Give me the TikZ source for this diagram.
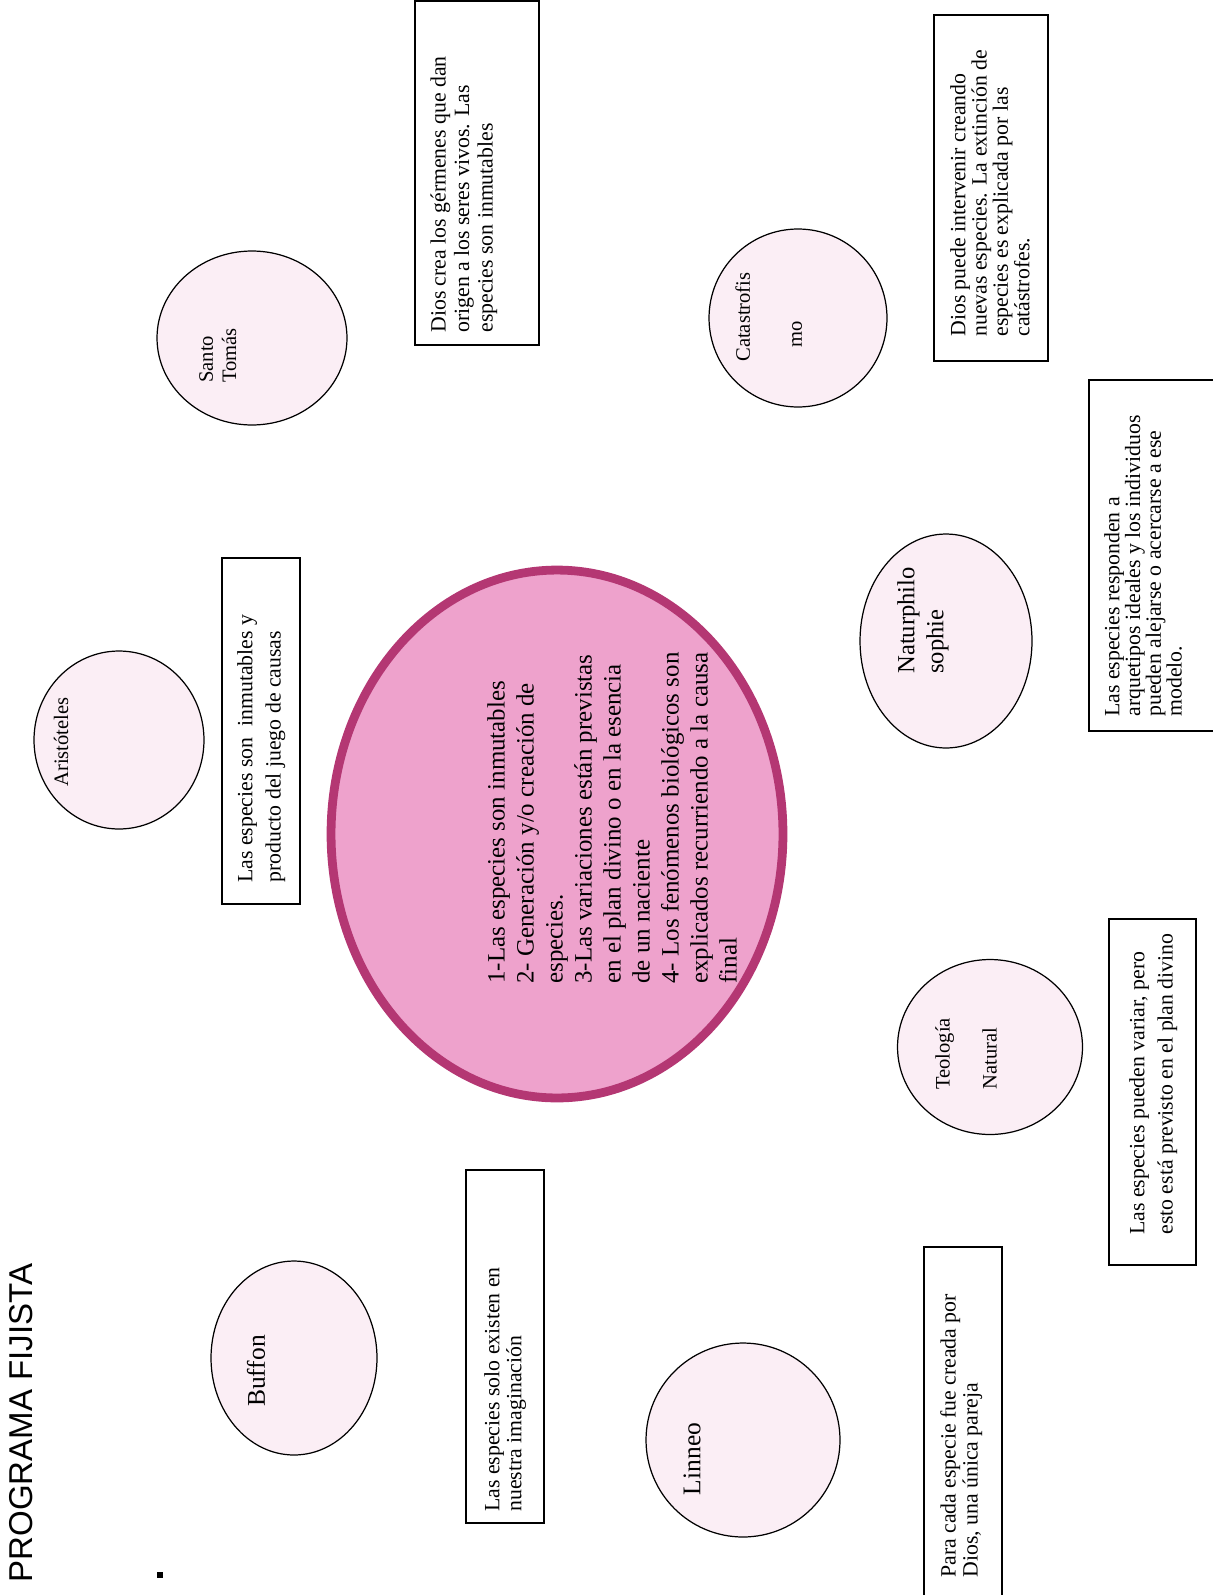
\documentclass[tikz,border=0pt]{standalone}
\usepackage{fontspec}
\setmainfont{Liberation Serif}
\newfontfamily\titulofont{Liberation Sans}
\usetikzlibrary{shapes.geometric}
\definecolor{rosaclaro}{RGB}{251,238,245}
\definecolor{rosa}{RGB}{238,162,204}
\definecolor{bordorosa}{RGB}{180,55,115}

\begin{document}
\begin{tikzpicture}[x=0.02cm, y=-0.02cm, line cap=round,
    burbuja/.style={ellipse, draw=black, line width=0.7pt, fill=rosaclaro, inner sep=0pt},
    caja/.style={rectangle, draw=black, line width=0.8pt, fill=white, inner sep=0pt},
    texto/.style={rotate=90, anchor=north west, align=left, inner sep=0pt},
    rotulo/.style={rotate=90, align=left, inner sep=0pt, font=\fontsize{11.7}{13.2}\selectfont}]
      \useasboundingbox (0,0) rectangle (1213,1595);
      % titulo
      \node[rotate=90, inner sep=0pt, font=\titulofont\fontsize{18.8}{22}\selectfont] (titulo) at (21,1423) {PROGRAMA FIJISTA};
      \node[fill=black, minimum size=3pt, inner sep=0pt] (punto) at (160,1575) {};
      % circulo central
      \node[ellipse, draw=bordorosa, line width=5pt, fill=rosa, minimum width=9.04cm, minimum height=10.56cm] (centro) at (557,834) {};
      \node[texto, font=\fontsize{14.2}{16.5}\selectfont] (centro-t) at (487,984)
        {1-Las especies son inmutables\\2- Generación y/o creación de\\especies.\\3-Las variaciones están previstas\\en el plan divino o en la esencia\\de un naciente\\4- Los fenómenos biológicos son\\explicados recurriendo a la causa\\final};
      % Aristoteles
      \node[burbuja, minimum width=3.4cm, minimum height=3.56cm] (aristoteles) at (119,740) {};
      \node[rotulo, anchor=center] (aristoteles-t) at (61,742) {Aristóteles};
      \node[caja, minimum width=1.56cm, minimum height=6.92cm] (aristoteles-c) at (261,731) {};
      \node[texto, font=\fontsize{12.4}{16}\selectfont] (aristoteles-ct) at (237,883)
        {Las especies son~ inmutables y\\producto del juego de causas};
      % Santo Tomas
      \node[burbuja, minimum width=3.8cm, minimum height=3.48cm] (tomas) at (252,338) {};
      \node[rotulo, anchor=north west] (tomas-t) at (199,383) {Santo\\Tomás};
      \node[caja, minimum width=2.48cm, minimum height=6.88cm] (tomas-c) at (477,173) {};
      \node[texto, font=\fontsize{12.4}{13.4}\selectfont] (tomas-ct) at (430,333)
        {Dios crea los gérmenes que dan\\origen a los seres vivos. Las\\especies son inmutables};
      % Catastrofismo
      \node[burbuja, minimum width=3.56cm, minimum height=3.56cm] (catas) at (798,318) {};
      \node[rotulo, anchor=north west] (catas-t) at (735,362) {Catastrofis\\[16.4pt]\hspace*{0.28cm}mo};
      \node[caja, minimum width=2.28cm, minimum height=6.92cm] (catas-c) at (991,188) {};
      \node[texto, font=\fontsize{12.4}{12.1}\selectfont] (catas-ct) at (950,337)
        {Dios puede intervenir creando\\nuevas especies. La extinción de\\especies es explicada por las\\catástrofes.};
      % Naturphilosophie
      \node[burbuja, minimum width=3.44cm, minimum height=4.28cm] (natur) at (946,641) {};
      \node[rotulo, anchor=north west, font=\fontsize{14}{16.5}\selectfont] (natur-t) at (897,674) {Naturphilo\\sophie};
      \node[caja, minimum width=2.72cm, minimum height=7.02cm] (natur-c) at (1157,555.5) {};
      \node[texto, font=\fontsize{12.4}{11.8}\selectfont] (natur-ct) at (1104,717)
        {Las especies responden a\\arquetipos ideales y los individuos\\pueden alejarse o acercarse a ese\\modelo.};
      % Teologia Natural
      \node[burbuja, minimum width=3.7cm, minimum height=3.5cm] (teologia) at (990,1047) {};
      \node[rotulo, anchor=north west] (teologia-t) at (935,1090) {Teología\\[13.5pt]Natural};
      \node[caja, minimum width=1.74cm, minimum height=6.92cm] (teologia-c) at (1152.5,1092) {};
      \node[texto, font=\fontsize{12.4}{16}\selectfont] (teologia-ct) at (1129,1235)
        {Las especies pueden variar, pero\\esto está previsto en el plan divino};
      % Buffon
      \node[burbuja, minimum width=3.32cm, minimum height=3.88cm] (buffon) at (294,1358) {};
      \node[rotulo, anchor=center, font=\fontsize{14.5}{17}\selectfont] (buffon-t) at (256,1371) {Buffon};
      \node[caja, minimum width=1.56cm, minimum height=7.06cm] (buffon-c) at (505,1346.5) {};
      \node[texto, font=\fontsize{12.4}{12.5}\selectfont] (buffon-ct) at (484,1512)
        {Las especies solo existen en\\nuestra imaginación};
      % Linneo
      \node[burbuja, minimum width=3.88cm, minimum height=3.88cm] (linneo) at (743,1440) {};
      \node[rotulo, anchor=center, font=\fontsize{14.5}{17}\selectfont] (linneo-t) at (692,1459) {Linneo};
      \node[caja, minimum width=1.56cm, minimum height=7.06cm] (linneo-c) at (963,1423.5) {};
      \node[texto, font=\fontsize{12.4}{12.5}\selectfont] (linneo-ct) at (940,1578)
        {Para cada especie fue creada por\\Dios, una única pareja};
\end{tikzpicture}
\end{document}
